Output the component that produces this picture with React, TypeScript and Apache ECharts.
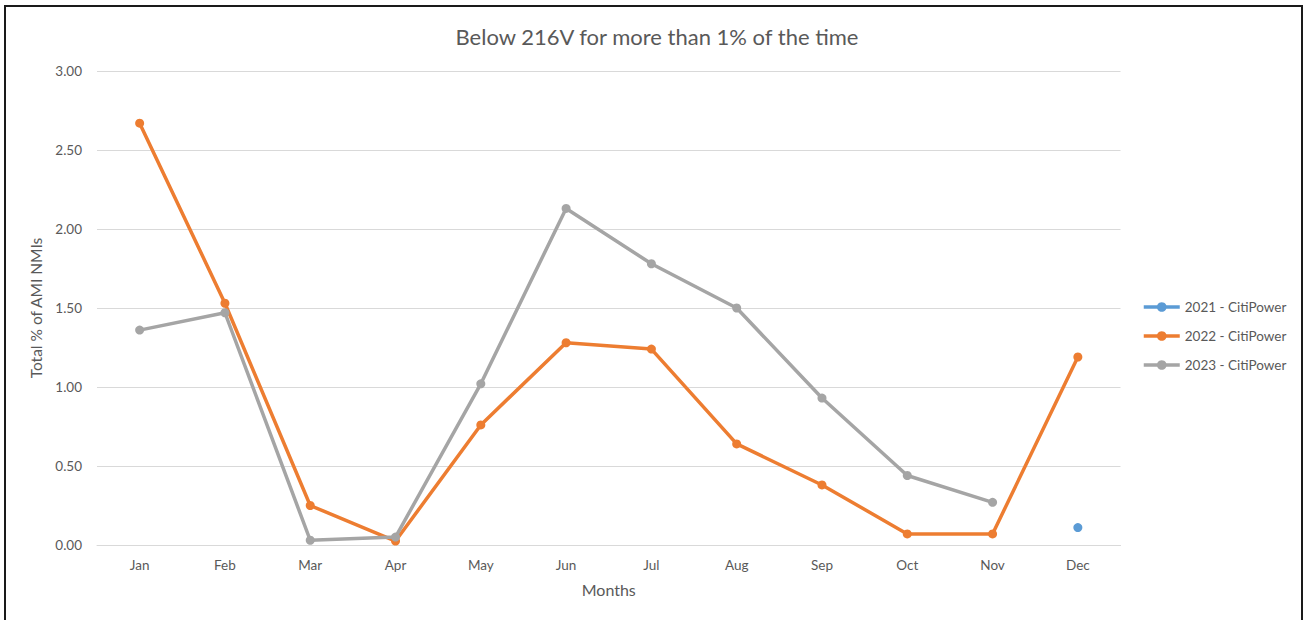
import React, { useEffect, useRef } from "react";
import * as echarts from "echarts";

const months = ["Jan", "Feb", "Mar", "Apr", "May", "Jun", "Jul", "Aug", "Sep", "Oct", "Nov", "Dec"];
const citi2021: (number | null)[] = [null, null, null, null, null, null, null, null, null, null, null, 0.11];
const citi2022: (number | null)[] = [2.67, 1.53, 0.25, 0.025, 0.76, 1.28, 1.24, 0.64, 0.38, 0.07, 0.07, 1.19];
const citi2023: (number | null)[] = [1.36, 1.47, 0.03, 0.05, 1.02, 2.13, 1.78, 1.5, 0.93, 0.44, 0.27, null];
const seriesNames = ["2021 - CitiPower", "2022 - CitiPower", "2023 - CitiPower"];
const colors = ["#5B9BD5", "#ED7D31", "#A5A5A5"];

const FONT = "Lato, 'Open Sans', sans-serif";
const TEXT = "#595959";

export default function App() {
  const ref = useRef<HTMLDivElement>(null);
  useEffect(() => {
    if (!ref.current) return;
    const chart = echarts.init(ref.current, null, { renderer: "svg" });
    const datasets = [citi2021, citi2022, citi2023];
    chart.setOption({
      animation: false,
      backgroundColor: "#ffffff",
      textStyle: { fontFamily: FONT, color: TEXT },
      title: {
        text: "Below 216V for more than 1% of the time",
        left: 652,
        textAlign: "center",
        top: 20,
        textStyle: { fontFamily: FONT, fontSize: 22, fontWeight: "normal", color: TEXT },
      },
      graphic: [
        {
          type: "rect",
          shape: { x: 5, y: 6, width: 1297, height: 620 },
          style: { fill: "none", stroke: "#1a1a1a", lineWidth: 2 },
          silent: true,
        },
      ],
      legend: {
        orient: "vertical",
        left: 1137,
        top: 295,
        itemWidth: 36,
        itemHeight: 12,
        itemGap: 15,
        lineStyle: { width: 3.5 },
        textStyle: { fontFamily: FONT, fontSize: 13.5, color: TEXT },
        data: seriesNames,
      },
      grid: { left: 97, right: 184.5, top: 71, bottom: 75, containLabel: false },
      xAxis: {
        type: "category",
        data: months,
        boundaryGap: true,
        name: "Months",
        nameLocation: "middle",
        nameGap: 36,
        nameTextStyle: { fontFamily: FONT, fontSize: 16, color: TEXT },
        axisLine: { show: true, lineStyle: { color: "#D9D9D9", width: 1 } },
        axisTick: { show: false },
        axisLabel: { fontFamily: FONT, fontSize: 13.5, color: TEXT, margin: 13 },
      },
      yAxis: {
        type: "value",
        min: 0,
        max: 3,
        interval: 0.5,
        name: "Total % of AMI NMIs",
        nameLocation: "middle",
        nameGap: 46,
        nameRotate: 90,
        nameTextStyle: { fontFamily: FONT, fontSize: 15.5, color: TEXT },
        axisLine: { show: false },
        axisTick: { show: false },
        splitLine: { lineStyle: { color: "#D9D9D9", width: 1 } },
        axisLabel: {
          fontFamily: FONT,
          fontSize: 13.5,
          color: TEXT,
          margin: 15,
          formatter: (v: number) => v.toFixed(2),
        },
      },
      series: datasets.map((d, i) => ({
        name: seriesNames[i],
        type: "line",
        data: d,
        connectNulls: false,
        symbol: "circle",
        symbolSize: 9,
        showSymbol: true,
        z: 2 + i,
        itemStyle: { color: colors[i] },
        lineStyle: { color: colors[i], width: 3.5 },
        emphasis: { disabled: true },
      })),
    });
    return () => chart.dispose();
  }, []);
  return (
    <div
      ref={ref}
      style={{ position: "fixed", left: 0, top: 0, width: 1305, height: 620 }}
    />
  );
}
